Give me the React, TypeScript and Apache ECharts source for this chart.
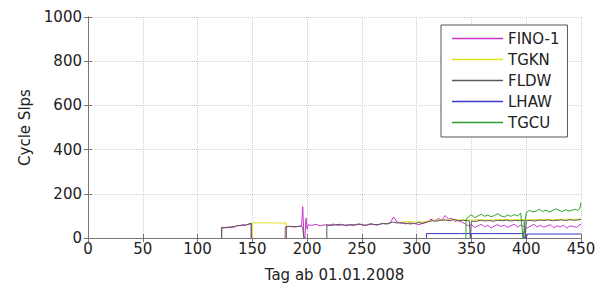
import React, { useEffect, useRef } from "react";
import * as echarts from "echarts";

const xTicks = { min: 0, max: 450, interval: 50 };
const yTicks = { min: 0, max: 1000, interval: 200 };
const seriesNames = ["FINO-1", "TGKN", "FLDW", "LHAW", "TGCU"];
const seriesColors = ["#cc33cc", "#e0e020", "#5a5a5a", "#3a3acc", "#2e9e2e"];

const fino1: (number | null)[][] = [
  [122, 0], [122, 45], [125, 46], [128, 47], [131, 48], [134, 50], [136, 57], [139, 55], [141, 61], [144, 58], [147, 63], [149, 64], [149, 0], [150, null],
  [180, 0], [180, 50], [184, 52], [188, 50], [192, 52], [195, 55], [196, 142], [197, 10], [198, 0], [199, 90], [200, 40], [201, 60],
  [204, 57], [208, 62], [212, 55], [216, 60], [220, 58], [224, 63], [228, 57], [232, 60], [236, 55], [240, 62], [244, 58], [248, 64],
  [252, 56], [256, 60], [260, 62], [264, 58], [268, 66], [272, 63], [276, 70], [279, 95], [282, 72], [286, 66], [290, 68], [294, 63],
  [298, 66], [302, 60], [306, 68], [310, 72], [313, 85], [316, 78], [320, 88], [323, 80], [326, 102], [329, 85], [332, 90], [335, 75],
  [338, 80], [341, 72], [344, 65], [347, 55], [350, 60], [353, 48], [356, 55], [359, 62], [362, 50], [365, 58], [368, 45], [371, 55],
  [374, 60], [377, 52], [380, 58], [383, 48], [386, 56], [389, 62], [392, 50], [395, 58], [398, 52], [401, 45], [404, 55], [407, 62],
  [410, 50], [413, 58], [416, 48], [419, 55], [422, 60], [425, 46], [428, 55], [431, 50], [434, 58], [437, 45], [440, 55], [443, 52],
  [446, 48], [449, 60], [450, 62],
];

const tgkn: (number | null)[][] = [
  [150, 0], [150, 68], [160, 69], [170, 68], [181, 68], [181, 0], [182, null],
  [286, 72], [292, 74], [298, 73], [304, 72], [310, 76], [316, 80], [322, 82], [328, 80], [334, 84], [340, 82], [346, 81], [352, 82],
  [358, 83], [364, 81], [370, 82], [376, 84], [382, 83], [388, 82], [394, 84], [400, 82], [406, 83], [412, 84], [418, 85], [424, 83],
  [430, 84], [436, 85], [442, 84], [448, 86], [450, 86],
];

const fldw: (number | null)[][] = [
  [122, 0], [122, 48], [126, 48], [130, 50], [134, 52], [137, 56], [140, 58], [143, 57], [146, 62], [149, 67], [149, 0], [150, null],
  [181, 0], [181, 52], [185, 53], [190, 51], [194, 54], [196, 48], [197, 0], [198, null],
  [218, 0], [218, 60], [222, 56], [226, 60], [230, 62], [234, 58], [238, 60], [242, 57], [246, 63], [250, 60], [254, 58], [258, 65],
  [262, 60], [266, 62], [270, 66], [274, 64], [278, 72], [282, 68], [286, 70], [290, 64], [294, 68], [298, 65], [302, 70], [306, 66],
  [310, 74], [314, 78], [318, 76], [322, 80], [326, 82], [330, 78], [334, 84], [338, 78], [342, 80], [348, 78], [349, 0], [350, 76],
  [354, 75], [358, 80], [362, 77], [366, 79], [370, 76], [374, 80], [378, 78], [382, 81], [386, 77], [390, 80], [394, 78], [398, 80],
  [399, 0], [400, 78], [404, 80], [408, 77], [412, 81], [416, 79], [420, 82], [424, 78], [428, 80], [432, 82], [436, 79], [440, 83],
  [444, 80], [448, 82], [450, 85],
];

const lhaw: (number | null)[][] = [
  [309, 0], [309, 20], [340, 20], [370, 20], [397, 20], [398, 0], [400, 0], [401, 18], [425, 18], [450, 18],
];

const tgcu: (number | null)[][] = [
  [345, 0], [345, 85], [347, 95], [350, 105], [353, 92], [356, 100], [359, 108], [362, 98], [365, 104], [368, 96], [371, 102],
  [374, 110], [377, 100], [380, 95], [383, 104], [386, 98], [389, 106], [392, 100], [395, 112], [397, 0], [400, 115], [403, 125],
  [406, 118], [409, 122], [412, 130], [415, 120], [418, 126], [421, 118], [424, 124], [427, 132], [430, 125], [433, 120], [436, 128],
  [439, 122], [442, 126], [445, 130], [447, 124], [449, 135], [450, 160],
];

const allData = [fino1, tgkn, fldw, lhaw, tgcu];

const FONT = "DejaVu Sans";
const AXIS_COLOR = "#777777";
const TEXT_COLOR = "#222222";

export default function App() {
  const ref = useRef<HTMLDivElement>(null);
  useEffect(() => {
    if (!ref.current) return;
    const chart = echarts.init(ref.current, undefined, { renderer: "svg" });
    const axisCommon = {
      axisLine: { show: true, lineStyle: { color: AXIS_COLOR, width: 1 } },
      axisTick: { show: true, inside: true, length: 4, lineStyle: { color: AXIS_COLOR } },
    };
    chart.setOption({
      animation: false,
      backgroundColor: "#ffffff",
      textStyle: { fontFamily: FONT },
      grid: { left: 88, right: 20, top: 17, bottom: 51, containLabel: false },
      legend: {
        orient: "vertical",
        left: 441,
        top: 25,
        data: seriesNames,
        icon: "rect",
        itemWidth: 51,
        itemHeight: 1.5,
        itemGap: 6,
        itemTextGap: 7,
        padding: [6, 8, 7, 11],
        backgroundColor: "#ffffff",
        borderColor: "#555555",
        borderWidth: 1,
        borderRadius: 0,
        textStyle: { fontFamily: FONT, fontSize: 15, color: TEXT_COLOR, lineHeight: 15 },
      },
      xAxis: [
        {
          type: "value",
          ...xTicks,
          ...axisCommon,
          name: "Tag ab 01.01.2008",
          nameLocation: "middle",
          nameGap: 29,
          nameTextStyle: { fontFamily: FONT, fontSize: 15, color: TEXT_COLOR },
          axisLabel: { fontFamily: FONT, fontSize: 15, color: TEXT_COLOR, margin: 3, formatter: (v: number) => String(v) },
          splitLine: { show: true, lineStyle: { type: "dotted", color: "#cfcfcf" } },
        },
        {
          type: "value",
          position: "top",
          ...xTicks,
          ...axisCommon,
          axisLabel: { show: false },
          splitLine: { show: false },
        },
      ],
      yAxis: [
        {
          type: "value",
          ...yTicks,
          ...axisCommon,
          name: "Cycle Slps",
          nameLocation: "middle",
          nameRotate: 90,
          nameGap: 49,
          nameTextStyle: { fontFamily: FONT, fontSize: 15, color: TEXT_COLOR },
          axisLabel: { fontFamily: FONT, fontSize: 15, color: TEXT_COLOR, margin: 6, formatter: (v: number) => String(v) },
          splitLine: { show: true, lineStyle: { type: "dotted", color: "#cfcfcf" } },
        },
        {
          type: "value",
          position: "right",
          ...yTicks,
          ...axisCommon,
          axisLabel: { show: false },
          splitLine: { show: false },
        },
      ],
      series: seriesNames.map((name, i) => ({
        name,
        type: "line",
        data: allData[i],
        symbol: "none",
        connectNulls: false,
        color: seriesColors[i],
        lineStyle: { width: 1, color: seriesColors[i] },
      })),
    });
    return () => chart.dispose();
  }, []);
  return <div ref={ref} style={{ width: 601, height: 289, position: "absolute", left: 0, top: 0 }} />;
}
